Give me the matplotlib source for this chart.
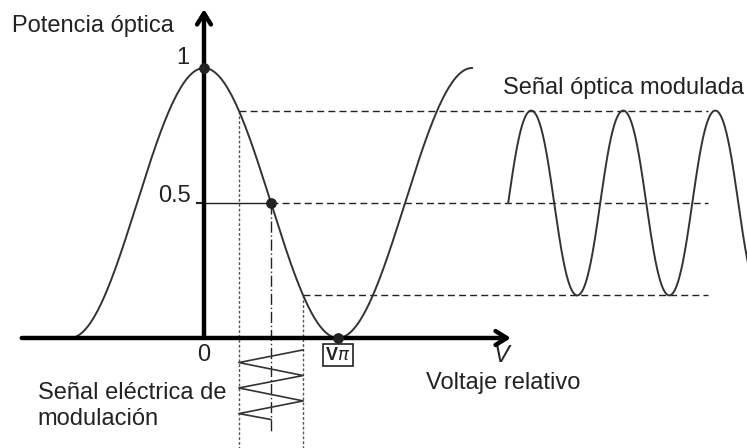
import numpy as np
import matplotlib
matplotlib.use("Agg")
import matplotlib.pyplot as plt

plt.rcParams['font.family'] = ['Liberation Sans', 'DejaVu Sans']

# transfer curve parameters (V in units of Vpi, P normalised)
v_range = [-1.0, 2.0]
bias = 0.5
swing = 0.24            # modulation amplitude in Vpi units
p_high = 0.84
p_low = 0.16

# electrical modulation zigzag (V, P) drawn below the axis
zig_v = [0.74, 0.26, 0.74, 0.26, 0.74, 0.26, 0.5]
zig_p = [-0.044, -0.091, -0.139, -0.185, -0.233, -0.280, -0.302]

# modulated optical signal on the right (start, period, end in V units)
opt_start = 2.27
opt_period = 0.687
opt_end = 4.06
guide_end = 3.76

marked_v = [0.0, 0.5, 1.0]
marked_p = [1.0, 0.5, 0.0]

ink = '#222222'
curve_col = '#333333'

fig = plt.figure(figsize=(7.47, 4.48), dpi=100)
ax = fig.add_axes([0, 0, 1, 1])
ax.set_xlim(-204 / 134, 543 / 134)
ax.set_ylim(-110 / 270, 338 / 270)
ax.axis('off')

# transfer curve P = cos^2(pi V / 2)
v = np.linspace(v_range[0], v_range[1], 400)
ax.plot(v, np.cos(np.pi * v / 2) ** 2, color=curve_col, lw=1.4, zorder=3)

# axes with arrows
arrow = dict(arrowstyle='->,head_length=0.8,head_width=0.5',
             lw=3.2, color='black', shrinkA=0, shrinkB=0)
ax.annotate('', xy=(2.29, 0), xytext=(-1.36, 0), arrowprops=arrow, zorder=4)
ax.annotate('', xy=(0, 1.218), xytext=(0, 0), arrowprops=arrow, zorder=4)
ax.plot([-0.05, 0], [0.5, 0.5], color=ink, lw=1.5)

# guide lines
ax.plot([0, bias], [0.5, 0.5], color=ink, lw=1.0)
ax.plot([bias, guide_end], [0.5, 0.5], color=ink, lw=1.0, ls=(0, (5, 3)))
ax.plot([0.26, guide_end], [p_high, p_high], color=ink, lw=1.0, ls=(0, (5, 3)))
ax.plot([0.74, guide_end], [p_low, p_low], color=ink, lw=1.0, ls=(0, (5, 3)))
ax.plot([0.26, 0.26], [p_high, -0.41], color='#555555', lw=1.0, ls=(0, (2, 1.5)))
ax.plot([0.74, 0.74], [p_low, -0.41], color='#555555', lw=1.0, ls=(0, (2, 1.5)))
ax.plot([bias, bias], [0.5, -0.352], color=ink, lw=1.0, ls=(0, (8, 2, 1, 2)))

# electrical signal
ax.plot(zig_v, zig_p, color=curve_col, lw=1.2)

# optical output signal
t = np.linspace(opt_start, opt_end, 600)
vin = bias - swing * np.sin(2 * np.pi * (t - opt_start) / opt_period)
ax.plot(t, np.cos(np.pi * vin / 2) ** 2, color=curve_col, lw=1.4)

ax.scatter(marked_v, marked_p, s=45, color=ink, zorder=5)

# labels
fs = 17
ax.text(-1.43, 1.155, 'Potencia óptica', fontsize=fs, color=ink, va='center', ha='left')
ax.text(-0.157, 1.037, '1', fontsize=fs, color=ink, va='center', ha='center')
ax.text(-0.097, 0.526, '0.5', fontsize=fs, color=ink, va='center', ha='right')
ax.text(0.0, -0.063, '0', fontsize=fs, color=ink, va='center', ha='center')
ax.text(1.0, -0.063, r'V$\pi$', fontsize=13, color=ink, va='center', ha='center',
        fontweight='bold',
        bbox=dict(boxstyle='square,pad=0.12', fc='white', ec=ink, lw=1.2))
ax.text(2.224, -0.063, 'V', fontsize=fs, color=ink, va='center', ha='center', style='italic')
ax.text(2.231, -0.167, 'Voltaje relativo', fontsize=fs, color=ink, va='center', ha='center')
ax.text(-1.24, -0.252, 'Señal eléctrica de\nmodulación', fontsize=fs, color=ink,
        va='center', ha='left', linespacing=1.25)
ax.text(2.23, 0.926, 'Señal óptica modulada', fontsize=fs, color=ink, va='center', ha='left')

fig.savefig('out.png', dpi=100)
